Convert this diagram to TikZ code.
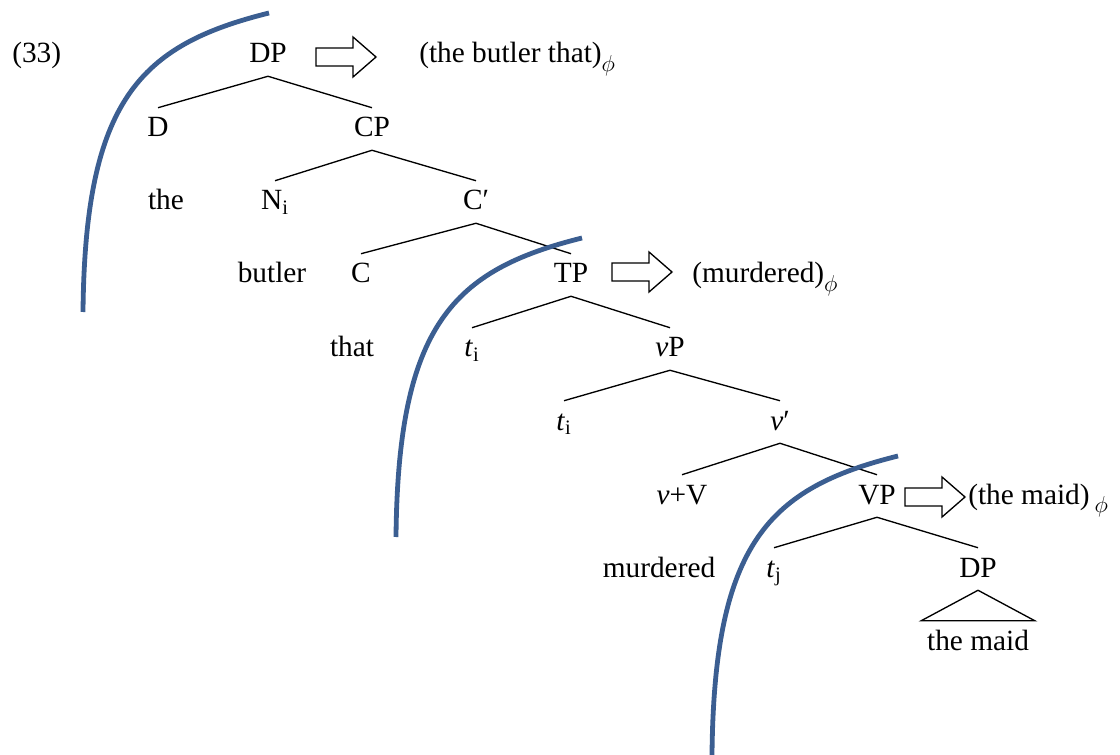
\documentclass[tikz,border=0pt]{standalone}
\usepackage{fontspec}
\setmainfont{Liberation Serif}
\usepackage{xcolor}
\usetikzlibrary{calc,positioning}
\definecolor{cutblue}{RGB}{59,94,145}
\newcommand{\phisub}{\raisebox{-0.28em}{\fontsize{17}{20}\selectfont$\phi$}}
\tikzstyle{cat}=[anchor=base, inner xsep=1pt, inner ysep=5.75pt, text height=16pt,
		text depth=4pt, font=\fontsize{22}{26}\selectfont]
\tikzstyle{gloss}=[anchor=base west, inner sep=0pt, font=\fontsize{22}{26}\selectfont]
\tikzstyle{br}=[draw, line width=1pt]
\tikzstyle{arr}=[draw, line width=1pt, line join=miter]
\tikzstyle{cut}=[draw=cutblue, line width=3.6pt]

\begin{document}
\begin{tikzpicture}[x=0.75pt, y=-0.75pt]
            \useasboundingbox (0,0) rectangle (1120,755);
            \node[gloss] (ex) at (12,63) {(33)};
            \node[cat] (dp) at (268,63) {DP};
            \node[cat] (d) at (158,137) {D};
            \node[cat] (cp) at (372,137) {CP};
            \node[cat] (the) at (166,210) {the};
            \node[cat] (n) at (275,210) {N\textsubscript{i}};
            \node[cat] (cbar) at (476,210) {C′};
            \node[cat] (butler) at (272,283) {butler};
            \node[cat] (c) at (361,283) {C};
            \node[cat] (tp) at (571,283) {TP};
            \node[cat] (that) at (352,357) {that};
            \node[cat] (ti) at (472,357) {\textit{t}\textsubscript{i}};
            \node[cat] (vp) at (670,357) {\textit{v}P};
            \node[cat] (tii) at (564,430) {\textit{t}\textsubscript{i}};
            \node[cat] (vbar) at (780,430) {\textit{v}′};
            \node[cat] (vv) at (682,504) {\textit{v}+V};
            \node[cat] (vvp) at (877,504) {VP};
            \node[cat] (murdered) at (659,577) {murdered};
            \node[cat] (tj) at (774,577) {\textit{t}\textsubscript{j}};
            \node[cat] (obj) at (978,577) {DP};
            \node[cat, inner xsep=4.2pt] (maid) at (978,650) {the maid};
            \node[gloss] (g1) at (419,63) {(the butler that)\phisub};
            \node[gloss] (g2) at (692,283) {(murdered)\phisub};
            \node[gloss] (g3) at (968,504) {(the maid)\,\phisub};
            \draw[br] (d.north) -- (dp.south) -- (cp.north);
            \draw[br] (n.north) -- (cp.south) -- (cbar.north);
            \draw[br] (c.north) -- (cbar.south) -- (tp.north);
            \draw[br] (ti.north) -- (tp.south) -- (vp.north);
            \draw[br] (tii.north) -- (vp.south) -- (vbar.north);
            \draw[br] (vv.north) -- (vbar.south) -- (vvp.north);
            \draw[br] (tj.north) -- (vvp.south) -- (obj.north);
            \draw[br] (obj.south) -- (maid.north west) -- (maid.north east) -- cycle;
            \foreach \p in {(346,57), (642,272), (935,497)}
                \draw[arr] \p ++(-30,-9) -- ++(37,0) -- ++(0,-11) -- ++(23,20)
                    -- ++(-23,20) -- ++(0,-11) -- ++(-37,0) -- cycle;
            \foreach \p in {(269,13), (582,238), (898,456)}
                \draw[cut] \p .. controls +(-129,32) and +(2,-212) .. ++(-186,299);
        \end{tikzpicture}
\end{document}
